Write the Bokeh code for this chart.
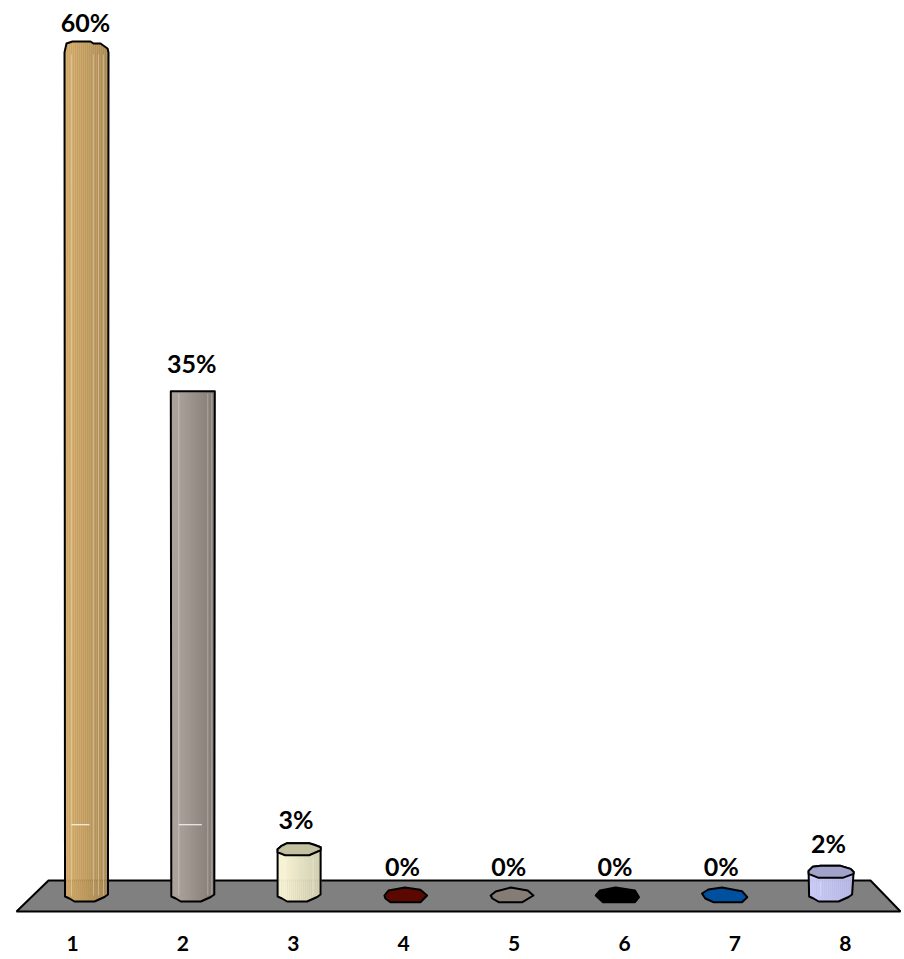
import numpy as np
from bokeh.core.properties import value
from bokeh.embed import file_html
from bokeh.models import FixedTicker, LinearAxis, Range1d
from bokeh.plotting import figure
from bokeh.resources import INLINE

# ---------- data ----------
categories = ["1", "2", "3", "4", "5", "6", "7", "8"]
shares = [60.0, 35.7, 3.2, 0.0, 0.0, 0.0, 0.0, 1.6]
share_labels = ["60%", "35%", "3%", "0%", "0%", "0%", "0%", "2%"]
body_light = ["#CFA765", "#ABA29C", "#F6F2D2", "#5A0800", "#8A8278", "#000000", "#0050A0", "#CBCBF7"]
body_dark = ["#A88850", "#837B74", "#CFCCAF", "#5A0800", "#8A8278", "#000000", "#0050A0", "#B9B9E6"]
cap_colors = ["#C5A15F", "#9C948D", "#C4C0A2", "#5A0800", "#857D75", "#000000", "#0050A0", "#A2A2CA"]
floor_color = "#808080"

# ---------- scale geometry (screen px per data unit) ----------
WIDTH, HEIGHT = 904, 959
BOTTOM = 46
PX_X = 106.3     # px per category for the bars
PX_Y = 14.15     # px per percent
X0, Y0 = 86.0, 895.0   # page position of category 1 and of 0 %
LX0, LPX = 72.0, 110.4 # axis labels sit on a slightly wider spacing (3D view)
idx = np.arange(1, len(categories) + 1)

p = figure(
    width=WIDTH, height=HEIGHT, output_backend="svg", toolbar_location=None,
    x_axis_location=None, y_axis_location=None,
    min_border_left=0, min_border_right=0, min_border_top=0, min_border_bottom=BOTTOM,
    outline_line_color=None, background_fill_color="white",
    x_range=Range1d(1 - X0 / PX_X, 1 + (WIDTH - X0) / PX_X),
    y_range=Range1d((Y0 - (HEIGHT - BOTTOM)) / PX_Y, Y0 / PX_Y),
)
p.grid.visible = False
p.extra_x_ranges["labels"] = Range1d(1 - LX0 / LPX, 1 + (WIDTH - LX0) / LPX)


def X(cat, dx=0.0):
    return cat + np.asarray(dx, dtype=float) / PX_X


def Y(v, dy=0.0):
    return v - np.asarray(dy, dtype=float) / PX_Y


# ---------- floor ----------
p.patch(
    X(1, [-38, 784, 814, -70]),
    Y(0, [-15, -15, 16, 16]),
    fill_color=floor_color, line_color="black", line_width=2,
)

# ---------- outlines, offsets in px around (category, value) ----------
BOTTOM_EDGE = ([-21.5, -17, -12, 8, 18, 21.5], [1, 3, 6, 6, 1.5, -1])
TOP_EDGES = {
    0: ([-22, -20, -14, 4, 7, 14, 21, 22], [6, -3, -5, -5, -3, -3, 2, 6]),
    1: ([-22, 22], [1, 1]),
    2: ([-21.5, -18, -12, 10, 15, 21.5], [-1, -4, -7, -7, -5.5, -3]),
    7: ([-22, -18, -10, 10, 20, 23], [-2, -6, -7, -7, -4, -1]),
}
CAPS = {
    2: ([-21.5, -18, -12, 10, 15, 21.5, 21.5, 10, -14, -21.5],
        [-1, -4, -7, -7, -5.5, -3, 0, 5, 5, 2]),
    3: ([-21, -17, -0.5, 15, 21.7, 15, -15, -20], [0, -5, -8, -5.7, 0, 6.7, 6.7, 3]),
    4: ([-21, -16, -1, 16, 21.7, 10.7, -13, -19.3], [0, -4, -8, -5, 0, 6.7, 6.7, 3]),
    5: ([-22.3, -18, -2.3, 17, 21, 17, -15], [0, -5, -8, -5, 1.7, 6.7, 6.7]),
    6: ([-22.3, -16, -2.3, 17.7, 23, 17.7, -11, -19], [-2, -6, -8, -4.3, 1.7, 6.7, 6.7, 3]),
    7: ([-22, -18, -10, 10, 20, 23, 23, 12, -12, -22],
        [-2, -6, -7, -7, -4, -1, 1, 5, 5, 1]),
}
LIGHT_LINES = {
    0: [-15, 7, 12, 17],
    1: [-14, 15, 19],
    2: [-14, 14],
    7: [-10],
}
GRID_MARKS = {0: (-15, 3), 1: (-14, 9)}
LABEL_DX = [-1, -1, -3, -3, -3, -3, -3, -2]
LABEL_DY = [-25, -27, -31, -30, -30, -30, -30, -30]

rgb = lambda c: np.array([int(c[i:i + 2], 16) for i in (1, 3, 5)], dtype=float)
for i, (cat, v) in enumerate(zip(idx, shares)):
    if i in TOP_EDGES:
        te = TOP_EDGES[i]
        edges = np.arange(-22, 22.01, 2.0)
        mids = (edges[:-1] + edges[1:]) / 2
        top_dy = np.interp(mids, te[0], te[1])
        bot_dy = np.interp(mids, BOTTOM_EDGE[0], BOTTOM_EDGE[1])
        a, b = rgb(body_light[i]), rgb(body_dark[i])
        cols = []
        for m in mids:
            t = (m + 22) / 44
            t = max(0.0, (t - 0.15) / 0.85)
            c = a + (b - a) * t
            cols.append("#%02x%02x%02x" % tuple(int(k) for k in c))
        p.quad(left=X(cat, edges[:-1]), right=X(cat, edges[1:] + 0.3),
               top=Y(v, top_dy), bottom=Y(0, bot_dy),
               fill_color=cols, line_color=None)
        # pale facet lines
        for lx in LIGHT_LINES[i]:
            p.segment(X(cat, lx), Y(v, 8 if i != 1 else 3), X(cat, lx), Y(0, 0),
                      line_color="#ffffff", line_alpha=0.32, line_width=1)
        if i in GRID_MARKS:
            g0, g1 = GRID_MARKS[i]
            p.segment(X(cat, g0), Y(5.0), X(cat, g1), Y(5.0), line_color="white", line_width=1)
        # silhouette
        xs = list(te[0]) + list(BOTTOM_EDGE[0][::-1])
        ys = list(Y(v, te[1])) + list(Y(0, BOTTOM_EDGE[1][::-1]))
        p.patch(X(cat, xs), ys, fill_color=None, line_color="black", line_width=2, line_join="round")
    if i in CAPS:
        cx, cy = CAPS[i]
        p.patch(X(cat, cx), Y(v, cy), fill_color=cap_colors[i], line_color="black",
                line_width=2, line_join="round")

# ---------- value labels ----------
p.text(
    x=[X(c, d) for c, d in zip(idx, LABEL_DX)],
    y=[Y(v, d) for v, d in zip(shares, LABEL_DY)],
    text=share_labels,
    text_font=value("Lato"), text_font_style="bold", text_font_size="25px",
    text_color="black", text_align="center", text_baseline="middle",
)

# ---------- category axis ----------
axis = LinearAxis(x_range_name="labels", ticker=FixedTicker(ticks=[int(k) for k in idx]))
axis.major_label_overrides = {int(k): c for k, c in zip(idx, categories)}
axis.axis_line_color = None
axis.major_tick_line_color = None
axis.minor_tick_line_color = None
axis.major_label_text_font = "Lato"
axis.major_label_text_font_style = "bold"
axis.major_label_text_font_size = "21px"
axis.major_label_text_color = "black"
axis.major_label_standoff = 16
p.add_layout(axis, "below")

open("out.html", "w").write(file_html(p, INLINE))
